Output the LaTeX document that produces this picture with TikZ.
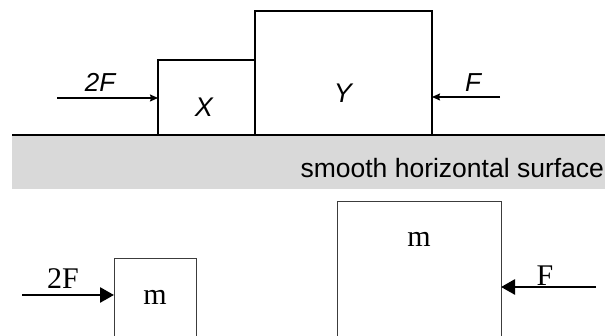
\documentclass[tikz,border=0pt]{standalone}
\usepackage{fontspec}
\setmainfont{Liberation Serif}
\setsansfont{Liberation Sans}
\usetikzlibrary{arrows.meta, positioning}
\definecolor{surfacegray}{RGB}{217, 217, 217}
\definecolor{boxgray}{RGB}{60, 60, 60}

\begin{document}
\begin{tikzpicture}[
  x = 1pt, y = 1pt,
  every node/.style = {inner sep=0pt, outer sep=0pt},
  topbox/.style  = {rectangle, draw=black, line width=1.3pt, anchor=north west},
  botbox/.style  = {rectangle, draw=boxgray, line width=1pt, anchor=north west},
  ground/.style  = {rectangle, fill=surfacegray, anchor=north west},
  toplabel/.style = {font=\sffamily\itshape\fontsize{26}{31}\selectfont},
  bigtop/.style  = {font=\sffamily\itshape\fontsize{27}{32}\selectfont},
  surflabel/.style = {font=\sffamily\fontsize{26.5}{31}\selectfont},
  botlabel/.style = {font=\rmfamily\fontsize{30}{35}\selectfont},
  toparr/.style  = {-{Stealth[length=8pt, width=7pt, inset=1pt]}, line width=1.3pt},
  botarr/.style  = {-{Triangle[length=14pt, width=15pt]}, line width=2.7pt}
]
\useasboundingbox (0,0) rectangle (605,336);
\clip (0,0) rectangle (605,336);

% upper figure: blocks on the surface
\node[ground, minimum width=593, minimum height=54] (floor) at (12,201) {};
\draw[line width=1.3pt] (floor.north west) -- (floor.north east);
\node[surflabel, anchor=east] (surftext) at (604,168) {smooth horizontal surface};

\node[topbox, minimum width=97, minimum height=75] (xbox) at (158,276) {};
\node[topbox, minimum width=177, minimum height=124] (ybox) at (255,325) {};
\node[bigtop] (xname) at (204,229) {X};
\node[bigtop] (yname) at (343,243) {Y};

\coordinate (tailtwoF) at (57,238);
\coordinate (tailF) at (500,239);
\draw[toparr] (tailtwoF) -- (tailtwoF -| xbox.west);
\draw[toparr] (tailF) -- (tailF -| ybox.east);
\node[toplabel] (twoFtop) at (100,254) {2F};
\node[toplabel] (Ftop) at (473,253) {F};

% lower figure: separated blocks
\node[botbox, minimum width=82, minimum height=110] (smallbox) at (114,77) {};
\node[botbox, minimum width=164, minimum height=170] (bigbox) at (337,134) {};
\node[botlabel] (msmall) at (155,39) {m};
\node[botlabel] (mbig) at (419,97) {m};

\coordinate (tailtwoFb) at (22,41);
\coordinate (tailFb) at (596,49);
\draw[botarr] (tailtwoFb) -- (tailtwoFb -| smallbox.west);
\draw[botarr] (tailFb) -- (tailFb -| bigbox.east);
\node[botlabel] (twoFbot) at (63,57) {2F};
\node[botlabel] (Fbot) at (545,60) {F};
\end{tikzpicture}
\end{document}
